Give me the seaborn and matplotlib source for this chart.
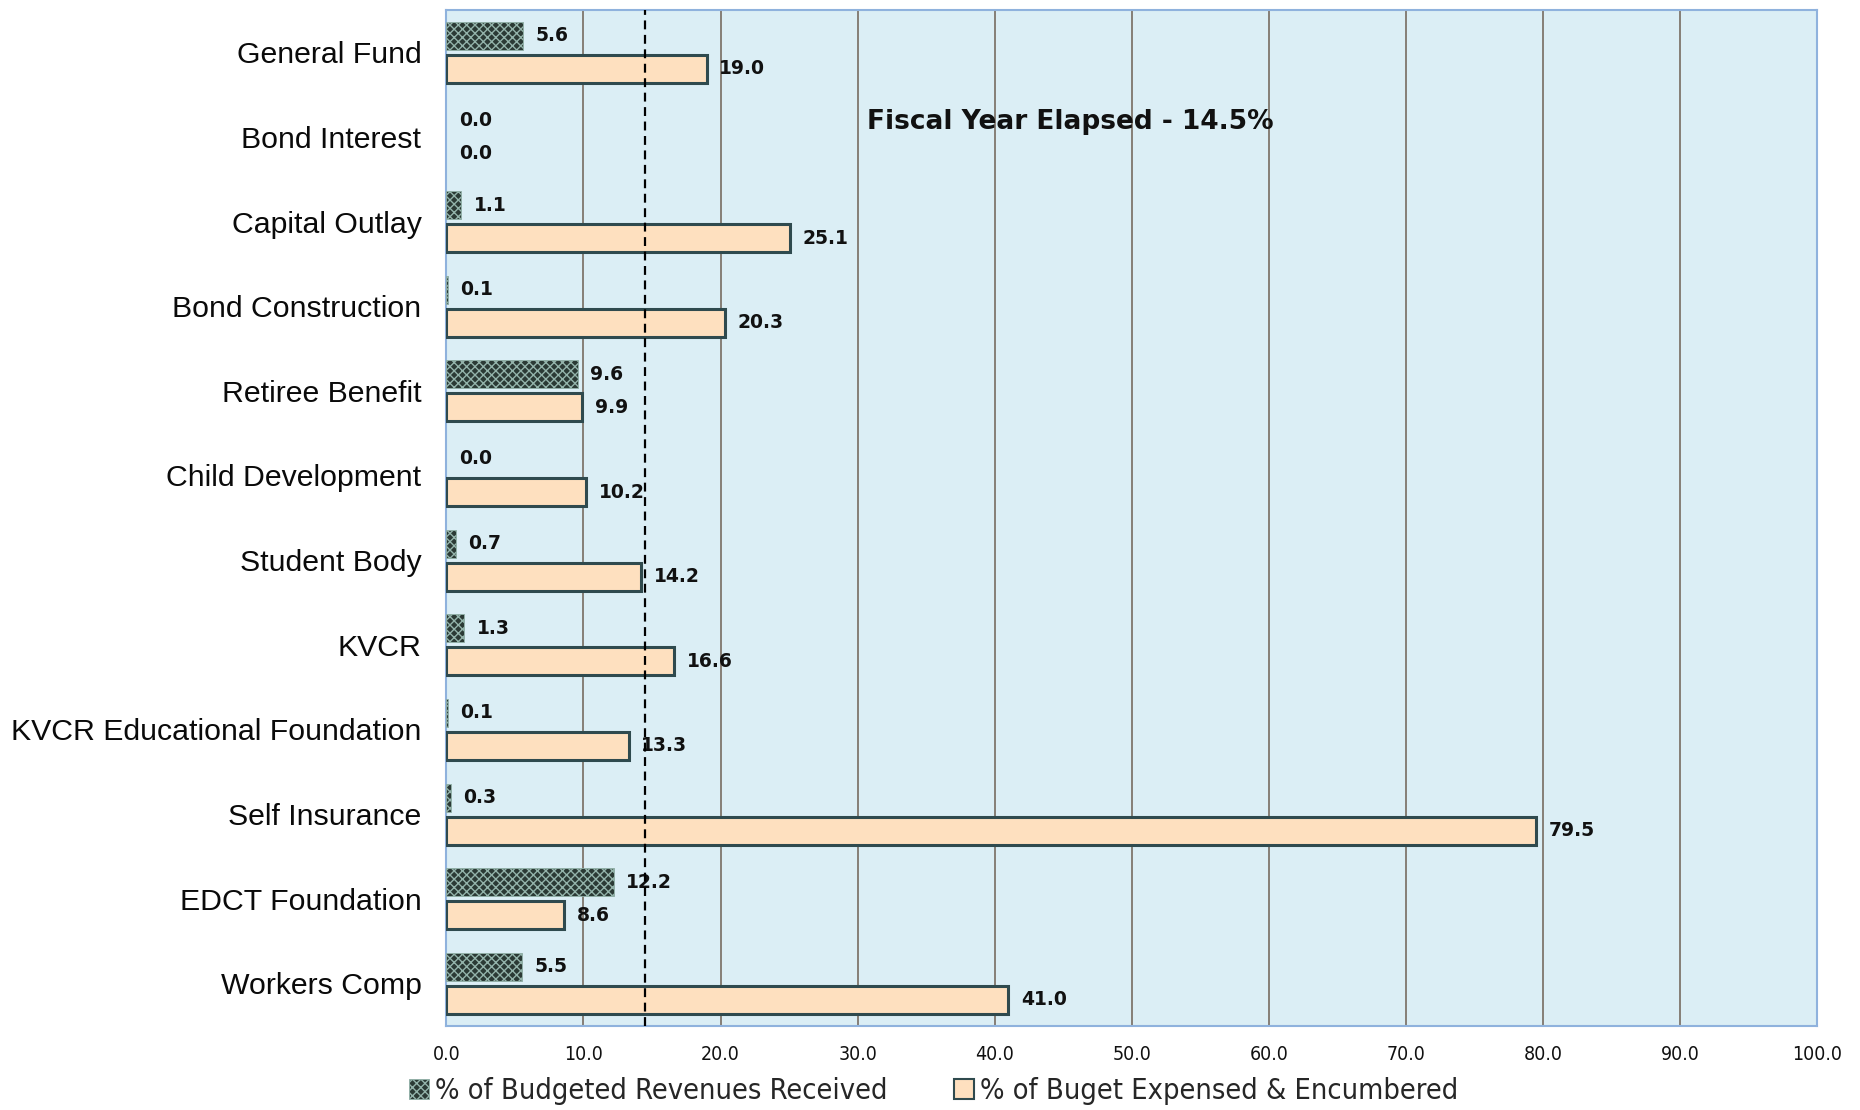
import matplotlib
matplotlib.use("Agg")
import matplotlib.pyplot as plt
import seaborn as sns
import pandas as pd
from matplotlib.patches import Patch

# Fund categories, top to bottom
funds = ["General Fund", "Bond Interest", "Capital Outlay", "Bond Construction",
         "Retiree Benefit", "Child Development", "Student Body", "KVCR",
         "KVCR Educational Foundation", "Self Insurance", "EDCT Foundation",
         "Workers Comp"]
revenues_received = [5.6, 0.0, 1.1, 0.1, 9.6, 0.0, 0.7, 1.3, 0.1, 0.3, 12.2, 5.5]
budget_expensed = [19.0, 0.0, 25.1, 20.3, 9.9, 10.2, 14.2, 16.6, 13.3, 79.5, 8.6, 41.0]
series_names = ["% of Budgeted Revenues Received", "% of Buget Expensed & Encumbered"]
x_ticks = [0, 10, 20, 30, 40, 50, 60, 70, 80, 90, 100]
fiscal_elapsed = 14.5
elapsed_label = "Fiscal Year Elapsed - 14.5%"

df = pd.DataFrame({
    "fund": funds * 2,
    "pct": revenues_received + budget_expensed,
    "series": [series_names[0]] * len(funds) + [series_names[1]] * len(funds),
})

sns.set_theme(style="white")
plt.rcParams["font.family"] = ["Liberation Sans", "DejaVu Sans"]
plt.rcParams["hatch.linewidth"] = 1.0

dark = "#2b3a35"
peach = "#fee0bf"
edge = "#2f4a4e"
hatch_edge = "#93b3aa"

fig = plt.figure(figsize=(18.6, 11.1), dpi=100)
ax = fig.add_axes([0.240, 0.076, 0.737, 0.915])

sns.barplot(data=df, y="fund", x="pct", hue="series", order=funds,
            hue_order=series_names, palette=[dark, peach], saturation=1,
            orient="h", width=0.78, gap=0.15, ax=ax, legend=False, zorder=3)

rev_bars, exp_bars = ax.containers[0], ax.containers[1]
for p, v in zip(rev_bars, revenues_received):
    p.set_hatch("xxxx")
    p.set_edgecolor(hatch_edge)
    p.set_linewidth(0.6 if v > 0 else 0)
for p, v in zip(exp_bars, budget_expensed):
    p.set_edgecolor(edge)
    p.set_linewidth(2.2 if v > 0 else 0)

label_font = dict(fontsize=13.5, fontweight="bold", color="#111111", family="DejaVu Sans")
ax.bar_label(rev_bars, labels=[f"{v:.1f}" for v in revenues_received], padding=9, **label_font)
ax.bar_label(exp_bars, labels=[f"{v:.1f}" for v in budget_expensed], padding=9, **label_font)

ax.set_facecolor("#dbeef5")
ax.set_xlim(0, 100)
ax.set_ylim(len(funds) - 0.5, -0.5)
ax.set_xticks(x_ticks)
ax.set_xticklabels([f"{t:.1f}" for t in x_ticks], fontsize=14, family="DejaVu Sans",
                   fontstretch="condensed")
ax.tick_params(axis="x", length=0, pad=14, labelcolor="#111111")
ax.tick_params(axis="y", length=0, pad=18, labelsize=21.8, labelcolor="#0a0a0a")
ax.set_xlabel("")
ax.set_ylabel("")
for t in x_ticks[1:-1]:
    ax.axvline(t, color="#7f766c", lw=1.3, zorder=1)
for s in ax.spines.values():
    s.set_color("#8fb2dd")
    s.set_linewidth(1.5)

ax.axvline(fiscal_elapsed, color="black", lw=1.6, linestyle=(0, (4, 2.5)), zorder=4)
ax.text(30.7, 0.82, elapsed_label, fontsize=19, fontweight="bold",
        family="DejaVu Sans", va="center", ha="left", color="#111111", zorder=5)

handles = [Patch(facecolor=dark, edgecolor=hatch_edge, hatch="xxxx", lw=0.6),
           Patch(facecolor=peach, edgecolor=edge, lw=1.5)]
fig.legend(handles, series_names, loc="center", bbox_to_anchor=(0.502, 0.017),
           ncol=2, frameon=False, handlelength=0.7, handleheight=0.7,
           handletextpad=0.2, columnspacing=2.3,
           prop=dict(family="DejaVu Sans", stretch="condensed", size=20.8))

fig.savefig("out.png", dpi=100)
